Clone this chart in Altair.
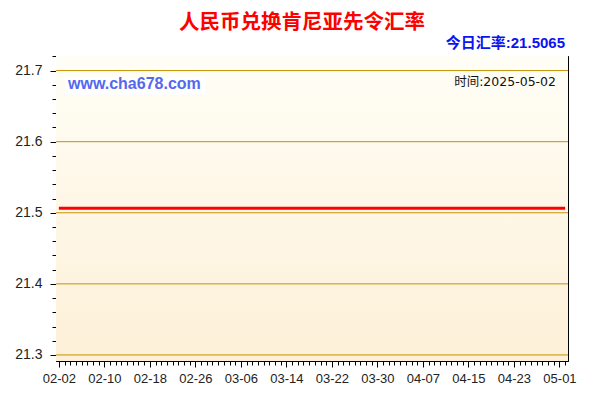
import json
import altair as alt

# ---------------- data ----------------
dates = [
    "2025-02-02", "2025-02-03", "2025-02-04", "2025-02-05", "2025-02-06", "2025-02-07", "2025-02-08",
    "2025-02-09", "2025-02-10", "2025-02-11", "2025-02-12", "2025-02-13", "2025-02-14", "2025-02-15",
    "2025-02-16", "2025-02-17", "2025-02-18", "2025-02-19", "2025-02-20", "2025-02-21", "2025-02-22",
    "2025-02-23", "2025-02-24", "2025-02-25", "2025-02-26", "2025-02-27", "2025-02-28",
    "2025-03-01", "2025-03-02", "2025-03-03", "2025-03-04", "2025-03-05", "2025-03-06", "2025-03-07",
    "2025-03-08", "2025-03-09", "2025-03-10", "2025-03-11", "2025-03-12", "2025-03-13", "2025-03-14",
    "2025-03-15", "2025-03-16", "2025-03-17", "2025-03-18", "2025-03-19", "2025-03-20", "2025-03-21",
    "2025-03-22", "2025-03-23", "2025-03-24", "2025-03-25", "2025-03-26", "2025-03-27", "2025-03-28",
    "2025-03-29", "2025-03-30", "2025-03-31",
    "2025-04-01", "2025-04-02", "2025-04-03", "2025-04-04", "2025-04-05", "2025-04-06", "2025-04-07",
    "2025-04-08", "2025-04-09", "2025-04-10", "2025-04-11", "2025-04-12", "2025-04-13", "2025-04-14",
    "2025-04-15", "2025-04-16", "2025-04-17", "2025-04-18", "2025-04-19", "2025-04-20", "2025-04-21",
    "2025-04-22", "2025-04-23", "2025-04-24", "2025-04-25", "2025-04-26", "2025-04-27", "2025-04-28",
    "2025-04-29", "2025-04-30",
    "2025-05-01", "2025-05-02",
]
rates = [
    21.5065, 21.5065, 21.5065, 21.5065, 21.5065, 21.5065, 21.5065,
    21.5065, 21.5065, 21.5065, 21.5065, 21.5065, 21.5065, 21.5065,
    21.5065, 21.5065, 21.5065, 21.5065, 21.5065, 21.5065, 21.5065,
    21.5065, 21.5065, 21.5065, 21.5065, 21.5065, 21.5065,
    21.5065, 21.5065, 21.5065, 21.5065, 21.5065, 21.5065, 21.5065,
    21.5065, 21.5065, 21.5065, 21.5065, 21.5065, 21.5065, 21.5065,
    21.5065, 21.5065, 21.5065, 21.5065, 21.5065, 21.5065, 21.5065,
    21.5065, 21.5065, 21.5065, 21.5065, 21.5065, 21.5065, 21.5065,
    21.5065, 21.5065, 21.5065,
    21.5065, 21.5065, 21.5065, 21.5065, 21.5065, 21.5065, 21.5065,
    21.5065, 21.5065, 21.5065, 21.5065, 21.5065, 21.5065, 21.5065,
    21.5065, 21.5065, 21.5065, 21.5065, 21.5065, 21.5065, 21.5065,
    21.5065, 21.5065, 21.5065, 21.5065, 21.5065, 21.5065, 21.5065,
    21.5065, 21.5065,
    21.5065, 21.5065,
]
x_tick_labels = ["02-02", "02-10", "02-18", "02-26", "03-06", "03-14",
                 "03-22", "03-30", "04-07", "04-15", "04-23", "05-01"]
y_ticks = [21.30, 21.32, 21.34, 21.36, 21.38, 21.40, 21.42, 21.44, 21.46, 21.48,
           21.50, 21.52, 21.54, 21.56, 21.58, 21.60, 21.62, 21.64, 21.66, 21.68,
           21.70, 21.72]
y_grid = [21.3, 21.4, 21.5, 21.6, 21.7]
y_domain = [21.2915, 21.7205]

title_text = "人民币兑换肯尼亚先令汇率"
today_text = "今日汇率:21.5065"
time_text = "时间:2025-05-02"
site_text = "www.cha678.com"

# ---------------- layout ----------------
W, H = 512, 305
GRID_COLOR = "#c49300"
LABEL_FONT = "Liberation Sans"
CJK_FONT = "Noto Sans CJK SC"


def to_dt(s, hours=0):
    y, m, d = (int(p) for p in s.split("-"))
    return alt.DateTime(year=y, month=m, date=d, hours=hours, utc=True)


x_values = [to_dt(s) for s in dates]
x_domain = [to_dt("2025-02-01", 12), to_dt("2025-05-02", 12)]

major_list = json.dumps(x_tick_labels).replace('"', "'")
x_major_test = f"indexof({major_list}, utcFormat(datum.value, '%m-%d')) >= 0"
y_major_test = "abs(datum.value * 10 - round(datum.value * 10)) < 0.001"

x_scale = alt.Scale(type="utc", domain=x_domain, nice=False)
y_scale = alt.Scale(domain=y_domain, nice=False, zero=False)

df_rows = [{"date": d, "rate": r} for d, r in zip(dates, rates)]
base = alt.Chart(alt.Data(values=df_rows))

background = alt.Chart(alt.Data(values=[{"k": 1}])).mark_rect(
    fill=alt.Gradient(
        gradient="linear",
        stops=[alt.GradientStop(color="#fffef6", offset=0),
               alt.GradientStop(color="#fdf0d7", offset=1)],
        x1=0, x2=0, y1=0, y2=1,
    )
).encode(x=alt.value(0), x2=alt.value(W), y=alt.value(0), y2=alt.value(H))

grid = alt.Chart(alt.Data(values=[{"v": v} for v in y_grid])).mark_rule(
    color=GRID_COLOR, strokeWidth=1
).encode(y=alt.Y("v:Q", scale=y_scale, axis=None))

line = base.mark_line(color="#ff0000", strokeWidth=3).encode(
    x=alt.X("date:T", scale=x_scale, title=None, axis=alt.Axis(
        orient="bottom", values=x_values, grid=False, title=None,
        labelExpr=f"{x_major_test} ? utcFormat(datum.value, '%m-%d') : ''",
        tickSize={"condition": {"test": x_major_test, "value": 6}, "value": 4},
        tickColor="black", domainColor="black", labelColor="#222222",
        labelFont=LABEL_FONT, labelFontSize=13, labelPadding=5,
        labelOverlap=False, labelFlush=False,
    )),
    y=alt.Y("rate:Q", scale=y_scale, title=None, axis=alt.Axis(
        orient="left", values=y_ticks, grid=False, title=None,
        labelExpr=f"{y_major_test} ? format(datum.value, '.1f') : ''",
        tickSize={"condition": {"test": y_major_test, "value": 6}, "value": 4},
        tickColor="black", domainColor="black", labelColor="#222222",
        labelFont=LABEL_FONT, labelFontSize=14, labelPadding=8,
        labelOverlap=False, labelFlush=False,
    )),
)

inner_ticks = base.mark_line(opacity=0).encode(
    x=alt.X("date:T", scale=x_scale, title=None, axis=alt.Axis(
        orient="top", values=x_values, grid=False, title=None, labels=False,
        domain=False, tickSize=4, offset=-4, tickColor="black",
    )),
    y=alt.Y("rate:Q", scale=y_scale, title=None, axis=alt.Axis(
        orient="right", values=y_ticks, grid=False, title=None, labels=False,
        domain=False, tickSize=4, offset=-4, tickColor="black",
    )),
)

site_box = alt.Chart(alt.Data(values=[{"k": 1}])).mark_rect(color="white").encode(
    x=alt.value(9), x2=alt.value(149), y=alt.value(21), y2=alt.value(39)
)
site = alt.Chart(alt.Data(values=[{"t": site_text}])).mark_text(
    font=LABEL_FONT, fontSize=16, fontWeight="bold", color="#5468ef",
    align="left", baseline="middle",
).encode(text="t:N", x=alt.value(12), y=alt.value(28))

time_label = alt.Chart(alt.Data(values=[{"t": time_text}])).mark_text(
    font=f"DejaVu Sans, {CJK_FONT}", fontSize=12.5, color="#111111",
    align="right", baseline="middle",
).encode(text="t:N", x=alt.value(500), y=alt.value(26))

title = alt.Chart(alt.Data(values=[{"t": title_text}])).mark_text(
    font=CJK_FONT, fontSize=20.5, fontWeight="bold", color="#ff0000",
    align="center", baseline="middle",
).encode(text="t:N", x=alt.value(246), y=alt.value(-33))

today = alt.Chart(alt.Data(values=[{"t": today_text}])).mark_text(
    font=f"{LABEL_FONT}, {CJK_FONT}", fontSize=15, fontWeight="bold", color="#0a14f0",
    align="right", baseline="middle",
).encode(text="t:N", x=alt.value(509), y=alt.value(-13))

chart = alt.layer(
    background, grid, site_box, site, time_label, line, inner_ticks, title, today
).resolve_axis(x="independent", y="independent").properties(
    width=W, height=H,
    padding={"left": 48, "top": 48, "right": 24, "bottom": 31},
    autosize="none", background="white",
).configure_view(stroke="black", strokeWidth=1)

chart.save("out.html", embed_options={"renderer": "svg", "actions": False})
